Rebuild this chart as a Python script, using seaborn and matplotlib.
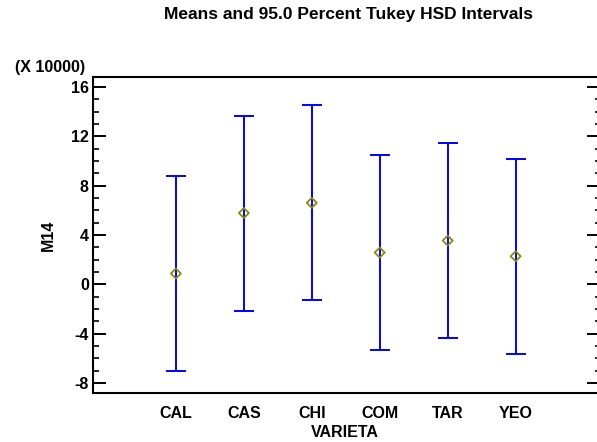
import matplotlib
matplotlib.use("Agg")
import matplotlib.pyplot as plt
import seaborn as sns
import pandas as pd
from matplotlib.ticker import MultipleLocator

sns.set_style("white", {"text.color": "black", "axes.labelcolor": "black",
                        "xtick.color": "black", "ytick.color": "black",
                        "axes.edgecolor": "black"})
plt.rcParams['font.family'] = 'Liberation Sans'
plt.rcParams['font.weight'] = 'bold'
plt.rcParams['axes.unicode_minus'] = False

# values in units of 10000
varieties = ["CAL", "CAS", "CHI", "COM", "TAR", "YEO"]
means = [0.88, 5.78, 6.61, 2.58, 3.55, 2.28]
half_width = 7.9

df = pd.DataFrame({"VARIETA": varieties, "M14": means})
df["pos"] = range(len(df))
df["lower"] = df["M14"] - half_width
df["upper"] = df["M14"] + half_width

fig = plt.figure(figsize=(5.97, 4.42), dpi=100)
ax = fig.add_axes([93 / 597, 1 - 393 / 442, 503.5 / 597, 316 / 442])

# Tukey HSD intervals
ax.errorbar(df["pos"], df["M14"], yerr=[df["M14"] - df["lower"], df["upper"] - df["M14"]],
            fmt="none", ecolor="#0000ff", elinewidth=1.4, capsize=7, capthick=1.4, zorder=2)
sns.scatterplot(data=df, x="pos", y="M14", marker="D", s=26, facecolor="none",
                edgecolor="#8c8c00", linewidth=1.3, ax=ax, zorder=3, legend=False)

ax.set_xlim(-1.22, 6.19)
ax.set_ylim(-8.8, 16.8)
ax.set_xticks(df["pos"])
ax.set_xticklabels(varieties)
ax.yaxis.set_major_locator(MultipleLocator(4))
ax.yaxis.set_minor_locator(MultipleLocator(1))
ax.tick_params(axis="y", which="major", direction="in", length=9, width=1.4, left=True,
               labelsize=11.5, pad=3, color="black", labelcolor="black")
ax.tick_params(axis="y", which="minor", direction="in", length=4, width=1.2, left=True,
               color="black")
ax.tick_params(axis="x", which="both", bottom=False, labelsize=11.5, pad=6, labelcolor="black")
for lab in ax.get_xticklabels() + ax.get_yticklabels():
    lab.set_fontweight("bold")

for side in ["left", "top", "bottom"]:
    ax.spines[side].set_linewidth(1.5)
    ax.spines[side].set_color("black")
ax.spines["right"].set_visible(False)

# right-hand ticks
ax2 = ax.twinx()
ax2.set_ylim(ax.get_ylim())
ax2.yaxis.set_major_locator(MultipleLocator(4))
ax2.yaxis.set_minor_locator(MultipleLocator(1))
ax2.tick_params(axis="y", which="major", direction="in", length=7, width=1.4, labelright=False,
                color="black")
ax2.tick_params(axis="y", which="minor", direction="in", length=1.5, width=1.2, color="black")
for side in ["left", "top", "bottom", "right"]:
    ax2.spines[side].set_visible(False)

ax.set_xlabel("VARIETA", fontsize=11.5, fontweight="bold", labelpad=3, color="black")
ax.set_ylabel("M14", fontsize=11.5, fontweight="bold", labelpad=11, color="black")
ax.text(-0.016, 1.005, "(X 10000)", transform=ax.transAxes, ha="right", va="bottom",
        fontsize=11.5, fontweight="bold", color="black")
fig.text(348 / 597, 1 - 15 / 442, "Means and 95.0 Percent Tukey HSD Intervals",
         ha="center", va="center", fontsize=12.5, fontweight="bold", color="black")

fig.savefig("out.png", dpi=100)
